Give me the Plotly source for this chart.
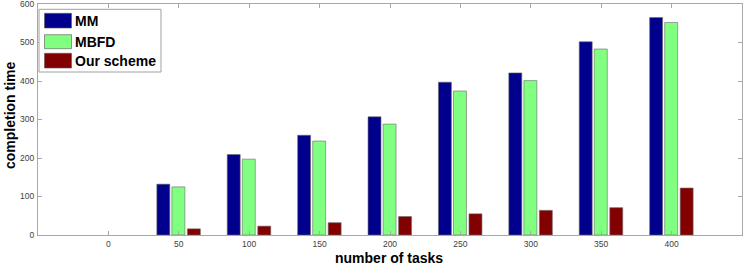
import plotly.graph_objects as go

tasks = [0, 50, 100, 150, 200, 250, 300, 350, 400]
mm = [0, 132, 209, 259, 307, 397, 421, 502, 565]
mbfd = [0, 125, 197, 244, 288, 374, 401, 483, 552]
ours = [0, 16, 23, 32, 48, 55, 64, 71, 122]
series_names = ["MM", "MBFD", "Our scheme"]
colors = ["#00008C", "#80FF80", "#820000"]

W, H = 743, 269
L, R, T, B = 38, 1, 4, 34
pw, ph = W - L - R, H - T - B


def px(x):
    return (x - L) / pw


def py(y):
    return (H - B - y) / ph


fig = go.Figure()
offsets = [-15.6, -4.9, 6.1]
for name, vals, c, off in zip(series_names, [mm, mbfd, ours], colors, offsets):
    fig.add_trace(go.Bar(
        x=tasks, y=vals, name=name, width=9.2, offset=off,
        marker=dict(color=c, line=dict(color="#6a6a6a",
                                       width=[0 if v == 0 else 0.6 for v in vals])),
        showlegend=False, hoverinfo="skip",
    ))

shapes = [dict(type="rect", xref="paper", yref="paper",
               x0=px(39), x1=px(161), y0=py(72), y1=py(9.3),
               fillcolor="white", line=dict(color="#a0a0a0", width=1), layer="above")]
annotations = []
label_font = dict(family="Liberation Sans, Arial", size=14, color="black")
rows = [(13.3, 28), (34.7, 48.7), (53.3, 68)]
for (y0, y1), name, c in zip(rows, series_names, colors):
    shapes.append(dict(type="rect", xref="paper", yref="paper",
                       x0=px(44.5), x1=px(71.5), y0=py(y1), y1=py(y0),
                       fillcolor=c, line=dict(color="#555555", width=0.6), layer="above"))
    annotations.append(dict(xref="paper", yref="paper", x=px(73), y=py((y0 + y1) / 2 + 0.5),
                            text="<b>%s</b>" % name, showarrow=False, xanchor="left",
                            yanchor="middle", font=label_font))

annotations.append(dict(xref="paper", yref="paper", x=px(388.5), y=py(257.5),
                        text="<b>number of tasks</b>", showarrow=False,
                        xanchor="center", yanchor="middle", font=label_font))
annotations.append(dict(xref="paper", yref="paper", x=px(10), y=py(115),
                        text="<b>completion time</b>", showarrow=False, textangle=-90,
                        xanchor="center", yanchor="middle", font=label_font))

axis_common = dict(showline=True, linecolor="#a8a8a8", linewidth=1, mirror="ticks",
                   ticks="inside", ticklen=4, tickcolor="#a8a8a8", showgrid=False,
                   zeroline=False, automargin=False, ticklabeloverflow="allow",
                   tickfont=dict(family="Liberation Sans, Arial", size=8.5, color="#404040"))

fig.update_layout(
    width=W, height=H,
    margin=dict(l=L, r=R, t=T, b=B),
    paper_bgcolor="white", plot_bgcolor="white",
    barmode="overlay",
    shapes=shapes, annotations=annotations,
    xaxis=dict(range=[-50, 450], tickmode="array", tickvals=tasks,
               ticktext=[str(t) for t in tasks], ticklabelstandoff=1,
               **axis_common),
    yaxis=dict(range=[0, 600], tickvals=[0, 100, 200, 300, 400, 500, 600],
               ticklabelstandoff=1,
               **axis_common),
)

fig.write_html("out.html", config={"displayModeBar": False},
               post_script="document.body.style.margin='0';document.body.style.overflow='hidden';")
